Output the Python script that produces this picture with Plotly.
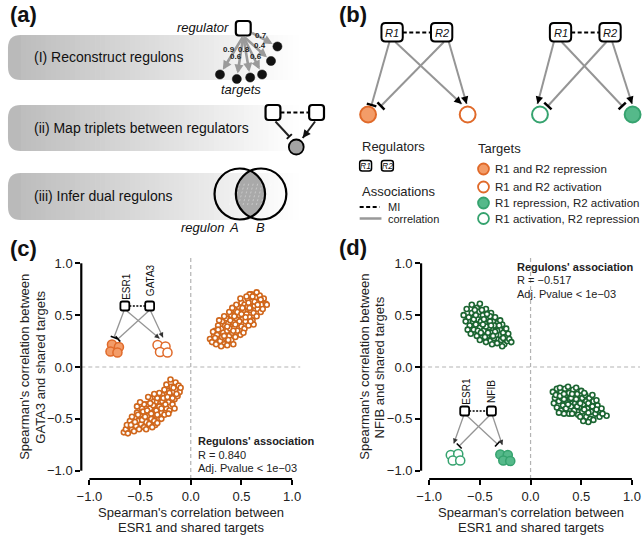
import math
import plotly.graph_objects as go

F = "Liberation Sans, Arial, Helvetica, sans-serif"
W, H = 644, 535

# ---------------- data ----------------
tick_vals = [-1.0, -0.5, 0.0, 0.5, 1.0]
tick_text = ["\u22121.0", "\u22120.5", "0.0", "0.5", "1.0"]

# panel (c): ESR1 vs GATA3 correlations with shared targets
c_pos = [(0.19,0.27),(0.21,0.24),(0.23,0.30),(0.25,0.22),(0.26,0.27),(0.28,0.33),(0.24,0.35),(0.29,0.25),
         (0.31,0.29),(0.30,0.37),(0.33,0.22),(0.27,0.40),(0.32,0.33),(0.35,0.27),(0.34,0.40),(0.36,0.35),
         (0.31,0.44),(0.38,0.30),(0.37,0.42),(0.39,0.37),(0.40,0.26),(0.35,0.47),(0.41,0.33),(0.42,0.43),
         (0.40,0.50),(0.43,0.38),(0.44,0.29),(0.45,0.47),(0.38,0.53),(0.46,0.35),(0.47,0.42),(0.44,0.55),
         (0.48,0.50),(0.49,0.31),(0.50,0.39),(0.47,0.58),(0.51,0.46),(0.52,0.54),(0.50,0.62),(0.53,0.37),
         (0.54,0.44),(0.55,0.51),(0.53,0.60),(0.56,0.58),(0.57,0.40),(0.58,0.48),(0.56,0.66),(0.59,0.55),
         (0.60,0.63),(0.61,0.45),(0.62,0.52),(0.60,0.70),(0.63,0.59),(0.64,0.67),(0.65,0.49),(0.66,0.56),
         (0.67,0.63),(0.69,0.53),(0.70,0.60),(0.72,0.66),(0.74,0.61),(0.68,0.69),(0.71,0.56),(0.42,0.22),
         (0.28,0.45),(0.36,0.21),(0.22,0.34),(0.33,0.49),(0.45,0.60),(0.58,0.70),(0.62,0.41),(0.52,0.33),
         (0.49,0.66),(0.65,0.72),(0.41,0.57),(0.26,0.31),(0.30,0.20),(0.43,0.49),(0.55,0.68),(0.75,0.60),
         (0.24,0.28),(0.27,0.36),(0.33,0.30),(0.37,0.26),(0.39,0.45),(0.42,0.35),(0.46,0.53),(0.48,0.44),
         (0.51,0.57),(0.54,0.48),(0.57,0.62),(0.59,0.44),(0.63,0.63),(0.66,0.60),(0.69,0.65),(0.36,0.39),
         (0.44,0.41),(0.50,0.51),(0.58,0.57),(0.61,0.68)]
c_neg = [(-0.66,-0.63),(-0.64,-0.60),(-0.62,-0.64),(-0.61,-0.57),(-0.60,-0.52),(-0.58,-0.60),(-0.57,-0.55),
         (-0.55,-0.49),(-0.56,-0.62),(-0.54,-0.57),(-0.53,-0.44),(-0.52,-0.52),(-0.51,-0.60),(-0.50,-0.47),
         (-0.49,-0.55),(-0.48,-0.40),(-0.47,-0.50),(-0.46,-0.58),(-0.45,-0.44),(-0.44,-0.53),(-0.43,-0.36),
         (-0.42,-0.47),(-0.41,-0.55),(-0.40,-0.40),(-0.39,-0.50),(-0.38,-0.33),(-0.37,-0.44),(-0.36,-0.52),
         (-0.35,-0.38),(-0.34,-0.47),(-0.33,-0.30),(-0.32,-0.41),(-0.31,-0.50),(-0.30,-0.35),(-0.29,-0.44),
         (-0.28,-0.27),(-0.27,-0.38),(-0.26,-0.46),(-0.25,-0.31),(-0.24,-0.40),(-0.23,-0.23),(-0.22,-0.34),
         (-0.21,-0.42),(-0.20,-0.28),(-0.19,-0.19),(-0.18,-0.36),(-0.17,-0.24),(-0.16,-0.31),(-0.15,-0.15),
         (-0.14,-0.22),(-0.13,-0.28),(-0.12,-0.18),(-0.11,-0.24),(-0.10,-0.20),(-0.20,-0.12),(-0.58,-0.48),
         (-0.63,-0.56),(-0.46,-0.36),(-0.40,-0.30),(-0.35,-0.56),(-0.29,-0.50),(-0.24,-0.17),(-0.31,-0.25),
         (-0.53,-0.38),(-0.44,-0.60),(-0.38,-0.58),(-0.26,-0.22),(-0.16,-0.40),(-0.50,-0.34),(-0.42,-0.29),
         (-0.33,-0.54),(-0.22,-0.45),(-0.28,-0.33),(-0.47,-0.43),(-0.36,-0.26),
         (-0.59,-0.56),(-0.55,-0.53),(-0.52,-0.46),(-0.48,-0.51),(-0.45,-0.48),(-0.43,-0.42),(-0.39,-0.45),
         (-0.37,-0.37),(-0.34,-0.42),(-0.31,-0.38),(-0.27,-0.30),(-0.25,-0.36),(-0.21,-0.25),(-0.18,-0.30),
         (-0.14,-0.26),(-0.40,-0.35),(-0.33,-0.46),(-0.29,-0.40),(-0.23,-0.29),(-0.17,-0.20)]

# panel (d): ESR1 vs NFIB correlations with shared targets
d_ul = [(-0.66,0.50),(-0.63,0.56),(-0.58,0.60),(-0.53,0.57),(-0.50,0.61),(-0.64,0.44),(-0.61,0.48),(-0.60,0.40),
        (-0.58,0.52),(-0.57,0.44),(-0.56,0.36),(-0.55,0.49),(-0.54,0.41),(-0.53,0.30),(-0.52,0.46),(-0.51,0.53),
        (-0.50,0.38),(-0.49,0.44),(-0.48,0.28),(-0.47,0.50),(-0.46,0.35),(-0.45,0.42),(-0.44,0.56),(-0.43,0.30),
        (-0.42,0.47),(-0.41,0.38),(-0.40,0.25),(-0.39,0.52),(-0.38,0.33),(-0.37,0.44),(-0.36,0.28),(-0.35,0.48),
        (-0.34,0.38),(-0.33,0.23),(-0.32,0.43),(-0.31,0.31),(-0.30,0.36),(-0.29,0.26),(-0.28,0.41),(-0.27,0.33),
        (-0.26,0.22),(-0.25,0.29),(-0.24,0.37),(-0.23,0.25),(-0.22,0.32),(-0.21,0.27),(-0.19,0.24),(-0.62,0.36),
        (-0.59,0.32),(-0.55,0.55),(-0.48,0.55),(-0.44,0.24),(-0.40,0.44),(-0.46,0.46),(-0.52,0.35),(-0.36,0.40),
        (-0.30,0.45),(-0.38,0.22),(-0.42,0.33),(-0.34,0.31),(-0.28,0.20),(-0.50,0.26),(-0.56,0.46),(-0.44,0.39),
        (-0.33,0.35),(-0.40,0.49),(-0.54,0.50),(-0.47,0.41),(-0.43,0.51),(-0.39,0.40),(-0.35,0.34),(-0.31,0.40),
        (-0.27,0.28),(-0.49,0.33),(-0.45,0.29),(-0.37,0.30)]
d_lr = [(0.22,-0.24),(0.24,-0.30),(0.23,-0.35),(0.26,-0.21),(0.27,-0.27),(0.28,-0.33),(0.26,-0.39),(0.30,-0.24),
        (0.31,-0.30),(0.32,-0.37),(0.30,-0.42),(0.34,-0.21),(0.35,-0.27),(0.36,-0.34),(0.35,-0.40),(0.38,-0.25),
        (0.39,-0.31),(0.40,-0.38),(0.38,-0.45),(0.42,-0.22),(0.43,-0.28),(0.44,-0.35),(0.43,-0.42),(0.46,-0.26),
        (0.47,-0.32),(0.48,-0.39),(0.47,-0.46),(0.50,-0.23),(0.51,-0.30),(0.52,-0.36),(0.51,-0.43),(0.54,-0.27),
        (0.55,-0.33),(0.56,-0.40),(0.55,-0.48),(0.58,-0.30),(0.59,-0.36),(0.60,-0.43),(0.59,-0.50),(0.62,-0.33),
        (0.63,-0.39),(0.64,-0.45),(0.66,-0.37),(0.67,-0.42),(0.68,-0.48),(0.62,-0.51),(0.57,-0.53),(0.52,-0.52),
        (0.75,-0.47),(0.29,-0.20),(0.45,-0.20),(0.41,-0.45),(0.33,-0.45),(0.37,-0.19),(0.49,-0.48),(0.53,-0.25),
        (0.61,-0.27),(0.65,-0.32),(0.70,-0.40),(0.71,-0.45),(0.25,-0.27),(0.40,-0.30),(0.46,-0.38),(0.57,-0.44),
        (0.33,-0.31),(0.28,-0.44),(0.29,-0.28),(0.33,-0.26),(0.37,-0.36),(0.41,-0.26),(0.45,-0.31),(0.49,-0.35),
        (0.53,-0.41),(0.57,-0.35),(0.61,-0.38),(0.65,-0.41)]

c_stats = ["<b>Regulons' association</b>", "R = 0.840", "Adj. Pvalue &lt; 1e\u221203"]
d_stats = ["<b>Regulons' association</b>", "R = \u22120.517", "Adj. Pvalue &lt; 1e\u221203"]
step_labels = ["(I) Reconstruct regulons", "(ii) Map triplets between regulators", "(iii) Infer dual regulons"]
edge_weights = ["0.7", "0.4", "0.9", "0.8", "0.6", "0.6"]
target_labels = ["R1 and R2 repression", "R1 and R2 activation",
                 "R1 repression, R2 activation", "R1 activation, R2 repression"]

# ---------------- styles ----------------
ORANGE = "#d0671c"
GREEN = "#1b6531"
OR_LINE = "#e06a2a"
OR_FILL = "#f39c68"
GR_LINE = "#36a36f"
GR_FILL = "#55b98a"
GRAY = "#959595"

shapes = []
annots = []


def px(x):
    return x / W


def py(y):
    return 1 - y / H


def line(x0, y0, x1, y1, color="black", width=1.5, dash=None, layer="above"):
    d = dict(color=color, width=width)
    if dash:
        d["dash"] = dash
    shapes.append(dict(type="line", xref="paper", yref="paper", x0=px(x0), y0=py(y0),
                       x1=px(x1), y1=py(y1), line=d, layer=layer))


def circle(cx, cy, r, fill="white", lc="black", lw=1.5):
    shapes.append(dict(type="circle", xref="paper", yref="paper", x0=px(cx - r), x1=px(cx + r),
                       y0=py(cy + r), y1=py(cy - r), fillcolor=fill, line=dict(color=lc, width=lw)))


def rrect(x0, y0, x1, y1, r, fill="white", lc="black", lw=2, layer="above"):
    P = lambda x, y: f"{px(x):.5f},{py(y):.5f}"
    path = (f"M{P(x0 + r, y0)} L{P(x1 - r, y0)} Q{P(x1, y0)} {P(x1, y0 + r)} "
            f"L{P(x1, y1 - r)} Q{P(x1, y1)} {P(x1 - r, y1)} L{P(x0 + r, y1)} "
            f"Q{P(x0, y1)} {P(x0, y1 - r)} L{P(x0, y0 + r)} Q{P(x0, y0)} {P(x0 + r, y0)} Z")
    shapes.append(dict(type="path", xref="paper", yref="paper", path=path, fillcolor=fill,
                       line=dict(color=lc, width=lw), layer=layer))


def text(x, y, s, size=12, color="#1a1a1a", xanchor="center", yanchor="middle", angle=0):
    annots.append(dict(x=px(x), y=py(y), xref="paper", yref="paper", text=s, showarrow=False,
                       font=dict(family=F, size=size, color=color), xanchor=xanchor,
                       yanchor=yanchor, textangle=angle))


def head(x0, y0, x1, y1, color="black", width=1.5, size=1.0, L=7):
    dx, dy = x1 - x0, y1 - y0
    n = math.hypot(dx, dy)
    ux, uy = dx / n, dy / n
    annots.append(dict(x=px(x1), y=py(y1), xref="paper", yref="paper", ax=-ux * L, ay=-uy * L,
                       axref="pixel", ayref="pixel", text="", showarrow=True, arrowhead=2,
                       arrowsize=size, arrowwidth=width, arrowcolor=color, standoff=0))


def arrow(x0, y0, x1, y1, color=GRAY, width=2, hcolor="black", hwidth=1.5, hsize=1.0, L=7):
    line(x0, y0, x1, y1, color, width)
    head(x0, y0, x1, y1, hcolor, hwidth, hsize, L)


def tee(x0, y0, x1, y1, color=GRAY, width=2, bcolor="black", bwidth=2.5, blen=10):
    line(x0, y0, x1, y1, color, width)
    dx, dy = x1 - x0, y1 - y0
    n = math.hypot(dx, dy)
    qx, qy = -dy / n, dx / n
    line(x1 - qx * blen / 2, y1 - qy * blen / 2, x1 + qx * blen / 2, y1 + qy * blen / 2, bcolor, bwidth)


# ---------------- panel (a) ----------------
text(19, 0, "<b>(a)</b>", size=22, color="#111", yanchor="top")

for (y0, y1) in [(35, 80), (105, 151), (173, 220)]:
    xs, xe = 3.0, 296.0

    def gcol(x):
        t = min(max((x - xs) / (xe - xs), 0), 1)
        v = int(round(186 + (255 - 186) * t))
        return f"rgb({v},{v},{v})"
    rad = 13
    P = lambda x, y: f"{px(x):.5f},{py(y):.5f}"
    cap = (f"M{P(xs + rad + 1, y0)} L{P(xs + rad, y0)} Q{P(xs, y0)} {P(xs, y0 + rad)} "
           f"L{P(xs, y1 - rad)} Q{P(xs, y1)} {P(xs + rad, y1)} L{P(xs + rad + 1, y1)} Z")
    shapes.append(dict(type="path", xref="paper", yref="paper", path=cap, fillcolor=gcol(xs),
                       line=dict(width=0), layer="below"))
    N = 56
    start = xs + rad
    wstep = (xe - start) / N
    for i in range(N):
        xa = start + i * wstep
        shapes.append(dict(type="rect", xref="paper", yref="paper", x0=px(xa), x1=px(xa + wstep + 0.7),
                           y0=py(y1), y1=py(y0), fillcolor=gcol(xa + wstep / 2), line=dict(width=0),
                           layer="below"))

text(27, 57, step_labels[0], size=14, color="#111", xanchor="left")
text(27, 128, step_labels[1], size=14, color="#111", xanchor="left")
text(27, 196, step_labels[2], size=14, color="#111", xanchor="left")

# regulator -> targets
text(228, 27, "<i>regulator</i>", size=13, color="#111", xanchor="right")
dots = [(275, 46.5), (268.5, 61), (259.5, 74.5), (247.5, 77.5), (234, 79), (217, 74.5)]
for k, (dx_, dy_) in enumerate(dots):
    tx, ty = (248, 32) if k == 0 else (240.5, 36)
    vx, vy = dx_ - tx, dy_ - ty
    n = math.hypot(vx, vy)
    hx, hy = dx_ - vx / n * 5.5, dy_ - vy / n * 5.5
    annots.append(dict(x=px(hx), y=py(hy), xref="paper", yref="paper", ax=tx - hx, ay=ty - hy,
                       axref="pixel", ayref="pixel", text="", showarrow=True, arrowhead=2,
                       arrowsize=0.7, arrowwidth=2.6, arrowcolor="#9a9a9a", standoff=0))
for (dx_, dy_) in dots:
    circle(dx_, dy_, 4.6, fill="#111", lc="#111", lw=0.5)
rrect(233, 21, 248, 35.5, 3, lw=2.2)
for (s, (wx, wy)) in zip(edge_weights, [(258.5, 35), (257, 45), (226.5, 49.5), (241.5, 49.5), (233.5, 57), (253.5, 57)]):
    text(wx, wy, f"<b>{s}</b>", size=8, color="#222")
text(238, 89, "<i>targets</i>", size=13, color="#111")

# triplet
line(278, 112.5, 307, 112.5, "black", 2, dash="4px,2.5px")
rrect(263, 105, 278, 120, 3, lw=2.2)
rrect(307, 105, 322, 120, 3, lw=2.2)
circle(294, 147, 7.5, fill="#a3a3a3", lc="black", lw=1.8)
tee(273, 121.5, 287, 136.5, color="#222", width=2, bcolor="#111", bwidth=2, blen=7)
arrow(313, 121.5, 300.5, 138, color="#222", width=2, hcolor="#111", hwidth=1.6, hsize=1.0, L=6)

# venn
cL, cR, rr = (237.0, 194.0), (258.5, 194.0), 25.5
d = cR[0] - cL[0]
a = d / 2.0
hh = math.sqrt(rr * rr - a * a)
th = math.atan2(hh, a)
pts = []
for i in range(25):
    t = -th + 2 * th * i / 24
    pts.append((cL[0] + rr * math.cos(t), cL[1] + rr * math.sin(t)))
for i in range(25):
    t = math.pi + th - 2 * th * i / 24
    pts.append((cR[0] + rr * math.cos(t), cR[1] + rr * math.sin(t)))
lens = "M" + " L".join(f"{px(x):.5f},{py(y):.5f}" for x, y in pts) + " Z"
shapes.append(dict(type="path", xref="paper", yref="paper", path=lens, fillcolor="#a9a9a9",
                   line=dict(width=0)))
for k in range(-4, 5):
    x0h = 247.75 + k * 4.5
    line(x0h - 3, 205, x0h + 3, 183, "rgba(255,255,255,0.45)", 0.8, dash="2px,2px")
circle(cL[0], cL[1], rr, fill="rgba(0,0,0,0)", lc="black", lw=2.2)
circle(cR[0], cR[1], rr, fill="rgba(0,0,0,0)", lc="black", lw=2.2)
text(199, 227, "<i>regulon</i>", size=13, color="#111")
text(231, 227, "<i>A</i>", size=13, color="#111")
text(258, 227, "<i>B</i>", size=13, color="#111")

# ---------------- panel (b) ----------------
text(351, 0, "<b>(b)</b>", size=22, color="#111", yanchor="top")


def reg_box(x0, label, y0=23, w=21.5, h=18.5, fs=11, r=4, lw=2):
    rrect(x0, y0, x0 + w, y0 + h, r, lw=lw)
    text(x0 + w / 2, y0 + h / 2 + 0.5, f"<i>{label}</i>", size=fs, color="#111")


# left motif
tee(388, 42, 370, 105)
tee(443, 42, 379.5, 106)
arrow(394, 42, 461, 104)
arrow(448, 42, 466, 104)
line(401.5, 32.5, 430, 32.5, "black", 2, dash="4px,2.5px")
reg_box(380, "R1")
reg_box(430, "R2")
circle(366.5, 114.5, 8, fill=OR_FILL, lc=OR_LINE, lw=2)
circle(467, 114.5, 8, fill="white", lc=OR_LINE, lw=2)

# right motif
arrow(554, 42, 537.5, 104)
tee(607, 42, 548, 106)
tee(562, 42, 623, 106)
arrow(613, 42, 633, 104)
line(571.5, 32.5, 600, 32.5, "black", 2, dash="4px,2.5px")
reg_box(550, "R1")
reg_box(600, "R2")
circle(540, 114.5, 8, fill="white", lc=GR_LINE, lw=2)
circle(633.5, 114.5, 8, fill=GR_FILL, lc=GR_LINE, lw=2)

# legend
text(358, 147, "Regulators", size=13, color="#222", xanchor="left")
reg_box(358, "R1", y0=160.5, w=12, h=10.5, fs=8.5, r=2.5, lw=1.5)
reg_box(380, "R2", y0=160.5, w=12, h=10.5, fs=8.5, r=2.5, lw=1.5)
text(358, 191, "Associations", size=13, color="#222", xanchor="left")
line(358, 207, 378, 207, "black", 2.2, dash="4px,2.5px")
text(385, 207, "MI", size=11, color="#222", xanchor="left")
line(358, 218.5, 380, 218.5, "#999999", 2.5)
text(385, 218.5, "correlation", size=11, color="#222", xanchor="left")

text(475, 148, "Targets", size=13, color="#222", xanchor="left")
leg_style = [(OR_FILL, OR_LINE), ("white", OR_LINE), (GR_FILL, GR_LINE), ("white", GR_LINE)]
for (lab, (fc, lc), yy) in zip(target_labels, leg_style, [169, 187, 203, 218.5]):
    circle(483, yy, 5.5, fill=fc, lc=lc, lw=1.8)
    text(493, yy, lab, size=11.5, color="#222", xanchor="left")

# ---------------- panels (c) and (d) ----------------
text(19, 248, "<b>(c)</b>", size=22, color="#111")
text(351, 247, "<b>(d)</b>", size=22, color="#111")

XL_C, XL_D, XW = 77.0, 420.0, 221.0
YB, YH = 479.0, 224.0


def Y(v):
    return YB - (v + 1.08) / 2.16 * YH


def X(v, x0):
    return x0 + (v + 1.08) / 2.16 * XW


fig = go.Figure()


def scatter(pts, color, xa, ya):
    fig.add_trace(go.Scatter(x=[p[0] for p in pts], y=[p[1] for p in pts], mode="markers",
                             xaxis=xa, yaxis=ya, showlegend=False, hoverinfo="skip",
                             marker=dict(symbol="circle", size=5, color="white",
                                         line=dict(color=color, width=1.6))))


scatter(c_pos, ORANGE, "x", "y")
scatter(c_neg, ORANGE, "x", "y")
scatter(d_ul, GREEN, "x2", "y2")
scatter(d_lr, GREEN, "x2", "y2")

for (xa, ya) in [("x", "y"), ("x2", "y2")]:
    shapes.append(dict(type="line", xref=xa, yref=ya + " domain", x0=0, x1=0, y0=0, y1=1,
                       line=dict(color="#b3b3b3", width=1.2, dash="4px,3px"), layer="below"))
    shapes.append(dict(type="line", xref=xa + " domain", yref=ya, x0=0, x1=1, y0=0, y1=0,
                       line=dict(color="#b3b3b3", width=1.2, dash="4px,3px"), layer="below"))

for x0 in (XL_C, XL_D):
    line(x0, Y(1.0), x0, Y(-1.0), "black", 2.2)
    line(X(-1.0, x0), YB, X(1.0, x0), YB, "black", 2.2)

# axis titles
for x0, other, xt1, xt2 in [(XL_C, "GATA3", 19, 35), (XL_D, "NFIB", 362, 378)]:
    xc = X(0.0, x0)
    text(xc, 512, "Spearman's correlation between", size=13, color="#222")
    text(xc, 527, "ESR1 and shared targets", size=13, color="#222")
    text(xt1, Y(0.0), "Spearman's correlation between", size=13, color="#222", angle=-90)
    text(xt2, Y(0.0), f"{other} and shared targets", size=13, color="#222", angle=-90)

# stats text
for (s, yy) in zip(c_stats, [441, 454.5, 468]):
    text(193, yy, s, size=11, color="#222", xanchor="left")
for (s, yy) in zip(d_stats, [266.5, 280, 293.5]):
    text(515, yy, s, size=11, color="#222", xanchor="left")

# mini motif (c)
tee(120, 311, 110, 337.5, color=GRAY, width=1.3, bcolor="black", bwidth=1.6, blen=7)
tee(145, 311, 114, 339, color=GRAY, width=1.3, bcolor="black", bwidth=1.6, blen=7)
arrow(123, 311, 156, 338.5, color=GRAY, width=1.3, hcolor="#333", hwidth=1, hsize=1, L=5)
arrow(147, 311, 159.5, 337.5, color=GRAY, width=1.3, hcolor="#333", hwidth=1, hsize=1, L=5)
line(125.5, 306, 141.5, 306, "black", 1.6, dash="2px,1.5px")
rrect(116.5, 301.5, 125.5, 310.5, 2, lw=1.8)
rrect(141.5, 301.5, 150.5, 310.5, 2, lw=1.8)
text(122, 286, "ESR1", size=10, color="#111", angle=-90)
text(146.5, 280, "GATA3", size=10, color="#111", angle=-90)
for (cx, cy) in [(108, 344.5), (115, 347), (106.5, 351.5), (113.5, 352.5)]:
    circle(cx, cy, 4.6, fill=OR_FILL, lc=OR_LINE, lw=1.5)
for (cx, cy) in [(154, 345), (162, 346.5), (156.5, 352), (164, 352.5)]:
    circle(cx, cy, 4.6, fill="white", lc=OR_LINE, lw=1.5)

# mini motif (d)
arrow(463, 415.5, 453, 443.5, color=GRAY, width=1.3, hcolor="#333", hwidth=1, hsize=1, L=5)
tee(489, 415.5, 458.5, 446, color=GRAY, width=1.3, bcolor="black", bwidth=1.6, blen=7)
tee(466, 415.5, 497, 444, color=GRAY, width=1.3, bcolor="black", bwidth=1.6, blen=7)
arrow(492, 415.5, 502, 445, color=GRAY, width=1.3, hcolor="#333", hwidth=1, hsize=1, L=5)
line(468.5, 411, 486.5, 411, "black", 1.6, dash="2px,1.5px")
rrect(459.5, 406.5, 468.5, 415.5, 2, lw=1.8)
rrect(486.5, 406.5, 495.5, 415.5, 2, lw=1.8)
text(465, 391, "ESR1", size=10, color="#111", angle=-90)
text(490.5, 391, "NFIB", size=10, color="#111", angle=-90)
for (cx, cy) in [(450, 455), (457.5, 454), (452, 460.5), (459.5, 460.5)]:
    circle(cx, cy, 4.6, fill="white", lc=GR_LINE, lw=1.5)
for (cx, cy) in [(500, 454.5), (507.5, 455), (503, 460.5), (510, 461)]:
    circle(cx, cy, 4.6, fill=GR_FILL, lc=GR_LINE, lw=1.5)

axis_common = dict(range=[-1.08, 1.08], tickvals=tick_vals, ticktext=tick_text, ticks="outside",
                   ticklen=5, tickwidth=1.5, tickcolor="black", showline=False, showgrid=False,
                   zeroline=False, tickfont=dict(family=F, size=13, color="#222"), fixedrange=True)

ydom = [1 - YB / H, 1 - (YB - YH) / H]
fig.update_layout(
    width=W, height=H, autosize=False,
    margin=dict(l=0, r=0, t=0, b=0),
    paper_bgcolor="white", plot_bgcolor="white",
    font=dict(family=F, size=12, color="#222"),
    xaxis=dict(domain=[XL_C / W, (XL_C + XW) / W], anchor="y", **axis_common),
    yaxis=dict(domain=ydom, anchor="x", **axis_common),
    xaxis2=dict(domain=[XL_D / W, (XL_D + XW) / W], anchor="y2", **axis_common),
    yaxis2=dict(domain=ydom, anchor="x2", **axis_common),
    shapes=shapes,
    annotations=annots,
    showlegend=False,
)

fig.write_html(
    "out.html",
    config={"displayModeBar": False},
    post_script="document.body.style.margin='0px';document.body.style.padding='0px';"
                "document.documentElement.style.overflow='hidden';document.body.style.overflow='hidden';",
)
